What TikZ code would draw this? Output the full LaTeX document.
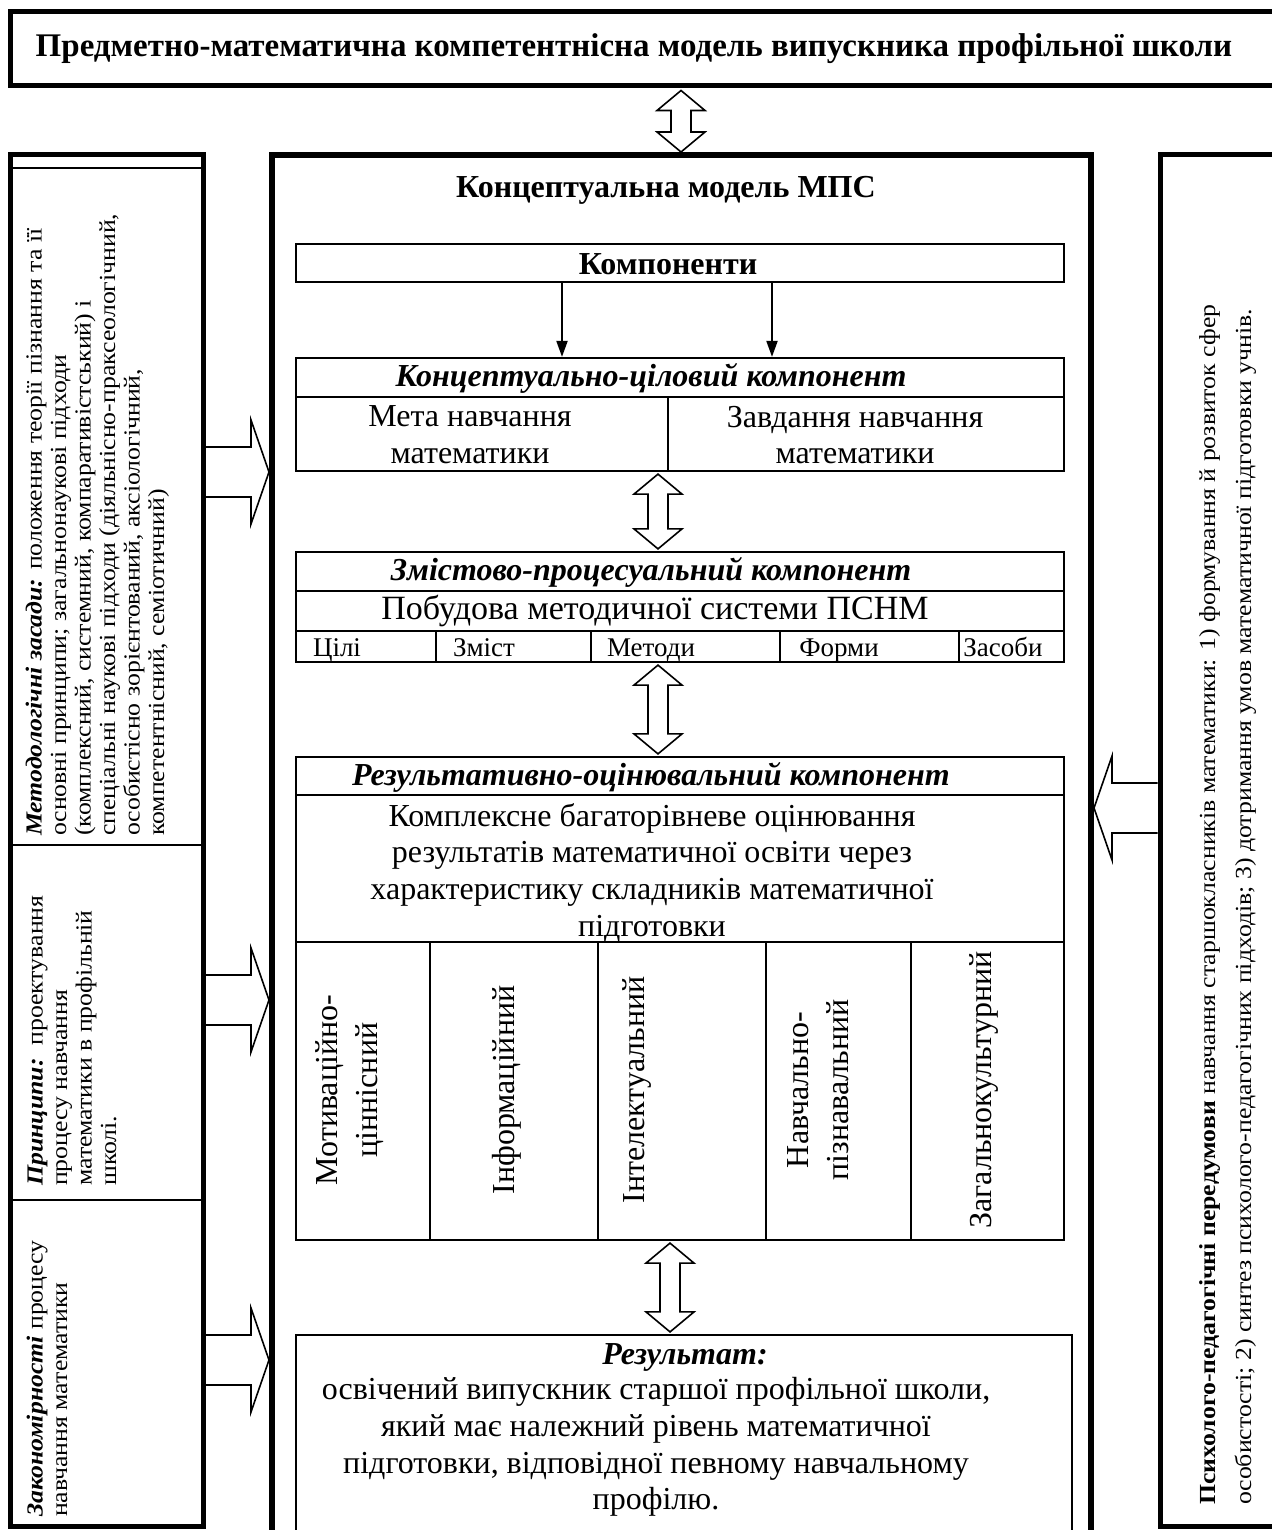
\documentclass[tikz,border=0pt]{standalone}
\usepackage{fontspec}
\setmainfont{Liberation Serif}
\newfontfamily\sidefont[FakeStretch=1.12]{Liberation Serif}
\usepackage{tikz}
\usetikzlibrary{arrows.meta, calc, positioning, fit}
\tikzset{>={Stealth[inset=0pt,length=16pt,width=11pt]}}
\tikzset{
  frame/.style={draw, line width=5pt, inner sep=0pt},
  box/.style={draw, line width=2.2pt, inner sep=0pt},
  cell/.style={line width=2pt},
  blockarr/.style={line width=1.6pt, line join=miter},
  txt/.style={font=\fontsize{32}{36.8}\selectfont, align=center, inner sep=0pt},
  vtxt/.style={font=\fontsize{32}{40}\selectfont, align=center, rotate=90, inner sep=0pt},
  side/.style={font=\sidefont\fontsize{23}{24.5}\selectfont, align=left, rotate=90, anchor=base west, inner sep=0pt}
}
\newcommand{\varr}[2]{%
  \coordinate (p) at (#1); \coordinate (q) at (#2);
  \draw[blockarr] (p) -- ($(p)!20pt!(q)+(24,0)$) -- ($(p)!20pt!(q)+(10,0)$)
    -- ($(q)!20pt!(p)+(10,0)$) -- ($(q)!20pt!(p)+(24,0)$) -- (q)
    -- ($(q)!20pt!(p)+(-24,0)$) -- ($(q)!20pt!(p)+(-10,0)$)
    -- ($(p)!20pt!(q)+(-10,0)$) -- ($(p)!20pt!(q)+(-24,0)$) -- cycle;}
\newcommand{\harr}[2]{%
  \coordinate (p) at (#1); \coordinate (q) at (#2);
  \draw[blockarr] ($(p)+(0,-25)$) -- ($(q)!18pt!(p)+(0,-25)$) -- ($(q)!18pt!(p)+(0,-52)$) -- (q)
    -- ($(q)!18pt!(p)+(0,52)$) -- ($(q)!18pt!(p)+(0,25)$) -- ($(p)+(0,25)$);}

\begin{document}
\begin{tikzpicture}[x=1pt, y=-1pt]
\useasboundingbox (0,0) rectangle (1271,1530);

\node[frame, fit={(10,12) (1290,86)}] (titlebox) {};
\node[txt, font=\fontsize{33}{38}\selectfont] (ttl) at (634,49) {\textbf{Предметно-математична компетентнісна модель випускника профільної школи}};

\node[frame, line width=6pt, fit={(272,155) (1091,1560)}] (mps) {};
\node[frame, fit={(10,155) (203,1526)}] (lcol) {};
\node[frame, fit={(1160,155) (1300,1526)}] (rcol) {};
\draw[cell] (10,168) -- (203,168);
\draw[cell] (10,845) -- (203,845);
\draw[cell] (10,1200) -- (203,1200);

\node[txt] (kmps) at (666,190) {\textbf{Концептуальна модель МПС}};

\node[box, fit={(296,244) (1064,282)}] (komp) {};
\node[txt] (kompt) at (668,264) {\textbf{Компоненти}};

\node[box, fit={(296,358) (1064,471)}] (kc) {};
\draw[cell] (296,397) -- (1064,397);
\draw[cell] (668,397) -- (668,471);
\node[txt] (kct) at (651,378) {\textbf{\textit{Концептуально-ціловий компонент}}};
\node[txt] (meta) at (470,435) {Мета навчання\\математики};
\node[txt] (zavd) at (855,435) {Завдання навчання\\математики};

\draw[->, line width=2pt] ($(komp.south)+(-118,0)$) -- ($(kc.north)+(-118,0)$);
\draw[->, line width=2pt] ($(komp.south)+(92,0)$) -- ($(kc.north)+(92,0)$);

\node[box, fit={(296,552) (1064,662)}] (zp) {};
\draw[cell] (296,591) -- (1064,591);
\draw[cell] (296,631) -- (1064,631);
\foreach \x in {436,591,780,959}
  \draw[cell] (\x,631) -- (\x,662);
\node[txt] (zpt) at (651,572) {\textbf{\textit{Змістово-процесуальний компонент}}};
\node[txt, font=\fontsize{34}{38}\selectfont] (pobud) at (655,611) {Побудова методичної системи ПСНМ};
\foreach \t/\x in {Цілі/337, Зміст/484, Методи/651, Форми/839, Засоби/1003}
  \node[txt, font=\fontsize{27}{30}\selectfont, anchor=base] (c\x) at (\x,656) {\t};

\node[box, fit={(296,757) (1064,1240)}] (ro) {};
\draw[cell] (296,795) -- (1064,795);
\draw[cell] (296,942) -- (1064,942);
\foreach \x in {430,598,766,911}
  \draw[cell] (\x,942) -- (\x,1240);
\node[txt] (rot) at (651,777) {\textbf{\textit{Результативно-оцінювальний компонент}}};
\node[txt] (kompl) at (652,873) {Комплексне багаторівневе оцінювання\\результатів математичної освіти через\\характеристику складників математичної\\підготовки};
\node[vtxt] (mot) at (350,1090) {Мотиваційно-\\ціннісний};
\node[vtxt] (inf) at (507,1090) {Інформаційний};
\node[vtxt] (intel) at (637,1090) {Інтелектуальний};
\node[vtxt] (nav) at (818,1090) {Навчально-\\пізнавальний};
\node[vtxt] (zag) at (984,1090) {Загальнокультурний};

\node[box, fit={(296,1335) (1072,1560)}] (res) {};
\node[txt] (rezt) at (685,1357) {\textbf{\textit{Результат:}}};
\node[txt] (rez) at (656,1447) {освічений випускник старшої профільної школи,\\який має належний рівень математичної\\підготовки, відповідної певному навчальному\\профілю.};

\node[side] (metod) at (164,836) {\textbf{\textit{Методологічні засади:}} положення теорії пізнання та її\\основні принципи; загальнонаукові підходи\\(комплексний, системний, компаративістський) і\\спеціальні наукові підходи (діяльнісно-праксеологічний,\\особистісно зорієнтований, аксіологічний,\\компетентнісний, семіотичний)};
\node[side] (princ) at (116,1186) {\textbf{\textit{Принципи:}}\ \ проектування\\процесу навчання\\математики в профільній\\школі.};
\node[side] (zakon) at (67,1517) {\textbf{\textit{Закономірності}} процесу\\навчання математики};
\node[side, font=\sidefont\fontsize{23}{36}\selectfont] (psych) at (1251,1505) {\textbf{Психолого-педагогічні передумови} навчання старшокласників математики: 1) формування й розвиток сфер\\особистості; 2) синтез психолого-педагогічних підходів; 3) дотримання умов математичної підготовки учнів.};

\coordinate (v1) at (681,0);
\coordinate (v2) at (658,0);
\coordinate (v3) at (658,0);
\coordinate (v4) at (670,0);
\varr{$(v1 |- titlebox.south)+(0,2)$}{v1 |- mps.north}
\varr{$(v2 |- kc.south)+(0,2)$}{$(v2 |- zp.north)+(0,-2)$}
\varr{$(v3 |- zp.south)+(0,2)$}{$(v3 |- ro.north)+(0,-2)$}
\varr{$(v4 |- ro.south)+(0,2)$}{$(v4 |- res.north)+(0,-2)$}

\coordinate (h1) at (0,472);
\coordinate (h2) at (0,1000);
\coordinate (h3) at (0,1360);
\coordinate (h4) at (0,808);
\harr{lcol.east |- h1}{mps.west |- h1}
\harr{lcol.east |- h2}{mps.west |- h2}
\harr{lcol.east |- h3}{mps.west |- h3}
\harr{rcol.west |- h4}{mps.east |- h4}
\end{tikzpicture}
\end{document}
